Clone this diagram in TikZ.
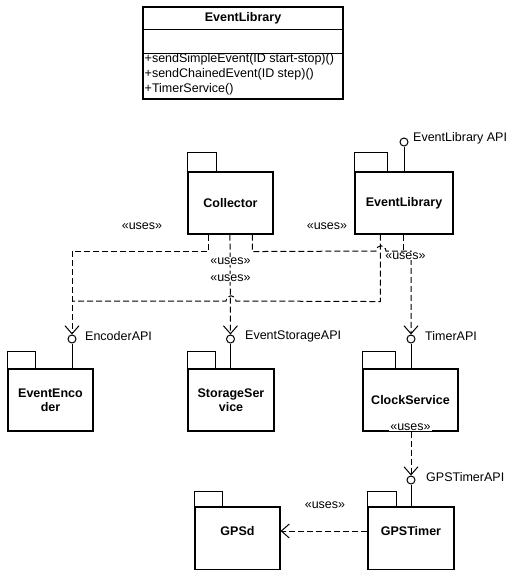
\documentclass[tikz,border=0pt]{standalone}
\usepackage{fontspec}
\setmainfont{Liberation Sans}
\usetikzlibrary{arrows.meta}
\begin{document}
\begin{tikzpicture}[x=1pt,y=-1pt,
  font=\fontsize{12.5}{14}\selectfont,
  pkg/.style={draw, line width=1.1pt, inner sep=0pt, font=\fontsize{12.5}{14}\selectfont\bfseries, align=center},
  pkgtab/.style={draw, line width=1.1pt},
  pkgname/.style={inner sep=0pt, font=\fontsize{12.5}{14}\selectfont\bfseries},
  iface/.style={draw, circle, line width=1pt, fill=white, minimum size=8pt, inner sep=0pt},
  stem/.style={line width=1pt},
  dep/.style={line width=1pt, dash pattern=on 6pt off 3pt},
  deparrow/.style={dep, -{Straight Barb[length=8pt,width=14pt,line width=1pt]}},
  stereo/.style={inner sep=1pt, fill=white},
  ifacename/.style={anchor=west, inner sep=0pt},
  member/.style={anchor=west, inner sep=0pt}]

\useasboundingbox[fill=white] (0,0) rectangle (509,571);

% class box with its three compartments
\node[draw, line width=1.1pt, minimum width=200pt, minimum height=92pt, inner sep=0pt] (cls) at (243,53) {};
\draw[line width=1.1pt] ([yshift=-23pt]cls.north west) -- ([yshift=-23pt]cls.north east);
\draw[line width=1.1pt] ([yshift=-47pt]cls.north west) -- ([yshift=-47pt]cls.north east);
\node[pkgname] (clstitle) at ([yshift=-11.5pt]cls.north) {EventLibrary};
\node[member] (m1) at (144.5,59) {+sendSimpleEvent(ID start-stop)()};
\node[member] (m2) at (144.5,74) {+sendChainedEvent(ID step)()};
\node[member] (m3) at (144.5,89) {+TimerService()};

% packages
\node[pkg, minimum width=85pt, minimum height=62pt] (collector) at (230.5,203) {Collector};
\draw[pkgtab] (collector.north west) rectangle ++(29,-19);
\node[pkg, minimum width=98pt, minimum height=62pt] (evlib) at (404,203) {EventLibrary};
\draw[pkgtab] (evlib.north west) rectangle ++(33,-19);
\node[pkg, minimum width=85pt, minimum height=62pt] (encoder) at (50.5,400) {EventEnco\\der};
\draw[pkgtab] (encoder.north west) rectangle ++(28,-17);
\node[pkg, minimum width=86pt, minimum height=62pt] (storage) at (231,400) {StorageSer\\vice};
\draw[pkgtab] (storage.north west) rectangle ++(28,-17);
\node[pkg, minimum width=95pt, minimum height=62pt] (clock) at (410.5,400) {ClockService};
\draw[pkgtab] (clock.north west) rectangle ++(33,-17);
\node[pkg, minimum width=85pt, minimum height=62.5pt] (gpsd) at (237.5,538.25) {};
\draw[pkgtab] (gpsd.north west) rectangle ++(28,-15);
\node[pkgname] (gpsdtxt) at (237.5,531) {GPSd};
\node[pkg, minimum width=86pt, minimum height=62.5pt] (gpstimer) at (411,538.25) {};
\draw[pkgtab] (gpstimer.north west) rectangle ++(29,-15);
\node[pkgname] (gpstimertxt) at (411,531) {GPSTimer};

% provided interfaces (lollipops)
\node[iface] (evlibapi) at (404,142) {};
\draw[stem] (evlibapi.south) -- (evlibapi |- evlib.north);
\node[ifacename] (evlibapiname) at (413,138) {EventLibrary API};
\node[iface] (encapi) at (72,339) {};
\draw[stem] (encapi.south) -- (encapi |- encoder.north);
\node[ifacename] (encapiname) at (85,336) {EncoderAPI};
\node[iface] (stapi) at (230.5,339) {};
\draw[stem] (stapi.south) -- (stapi |- storage.north);
\node[ifacename] (stapiname) at (245,336) {EventStorageAPI};
\node[iface] (timerapi) at (411,339) {};
\draw[stem] (timerapi.south) -- (timerapi |- clock.north);
\node[ifacename] (timerapiname) at (425,336) {TimerAPI};
\node[iface] (gpsapi) at (411,480) {};
\draw[stem] (gpsapi.south) -- (gpsapi |- gpstimer.north);
\node[ifacename] (gpsapiname) at (426,477) {GPSTimerAPI};

% usage dependencies, with small jumps where they cross
\draw[deparrow] ([xshift=21pt]collector.south west) -- ++(0,17) -| (encapi.north);
\draw[deparrow] ([xshift=42.5pt]collector.south west) -- (stapi.north);
\draw[deparrow] ([xshift=65pt]collector.south west) -- ++(0,17) -- (376,251)
  .. controls (377,244) and (385,244) .. (386,251) -| (timerapi.north);
\draw[dep] ([xshift=26pt]evlib.south west) -- ++(0,67) -- (236,301)
  .. controls (235,294) and (227,294) .. (226,301) -- ++(-154,0);
\draw[dep] ([xshift=49pt]evlib.south west) -- ++(0,22) -- ++(7,0);
\draw[deparrow] (gpsapi |- clock.south) -- (gpsapi.north);
\draw[deparrow] (gpstimertxt -| gpstimer.west) -- (gpstimertxt -| gpsd.east);

% stereotypes
\node[stereo] (u1) at (142,226) {«uses»};
\node[stereo] (u2) at (327,226) {«uses»};
\node[stereo] (u3) at (230.5,261) {«uses»};
\node[stereo] (u4) at (230.5,278) {«uses»};
\node[stereo] (u5) at (405.5,256) {«uses»};
\node[stereo] (u6) at (410.5,427) {«uses»};
\node[stereo] (u7) at (325,505) {«uses»};
\end{tikzpicture}
\end{document}
